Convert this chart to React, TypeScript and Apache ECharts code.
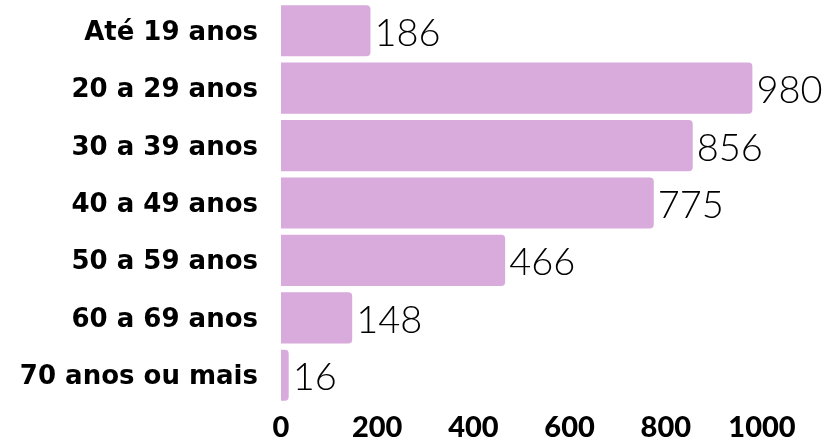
import React, { useEffect, useRef } from "react";
import * as echarts from "echarts";

const categories = [
  "Até 19 anos",
  "20 a 29 anos",
  "30 a 39 anos",
  "40 a 49 anos",
  "50 a 59 anos",
  "60 a 69 anos",
  "70 anos ou mais",
];
const values = [186, 980, 856, 775, 466, 148, 16];

export default function App() {
  const ref = useRef<HTMLDivElement>(null);
  useEffect(() => {
    if (!ref.current) return;
    const chart = echarts.init(ref.current, null, { renderer: "svg" });
    chart.setOption({
      animation: false,
      grid: { left: 281, right: 71, top: 2, bottom: 39, containLabel: false },
      xAxis: {
        type: "value",
        min: 0,
        max: 1000,
        interval: 200,
        splitLine: { show: false },
        axisLine: { show: false },
        axisTick: { show: false },
        axisLabel: {
          margin: 6,
          formatter: (v: number) => String(v),
          fontFamily: "Lato",
          fontWeight: 900,
          fontSize: 29,
          lineHeight: 30,
          color: "#000",
        },
      },
      yAxis: {
        type: "category",
        inverse: true,
        data: categories,
        axisLine: { show: false },
        axisTick: { show: false },
        axisLabel: {
          margin: 23,
          fontFamily: "DejaVu Sans",
          fontWeight: "bold",
          fontSize: 26,
          color: "#000",
        },
      },
      series: [
        {
          type: "bar",
          data: values,
          barCategoryGap: "11%",
          itemStyle: { color: "#D8ABDC", borderRadius: [0, 4, 4, 0] },
          label: {
            show: true,
            position: "right",
            distance: 4,
            fontFamily: "Lato",
            fontWeight: 300,
            fontSize: 38,
            color: "#000",
          },
        },
      ],
    });
    return () => chart.dispose();
  }, []);
  return (
    <div
      ref={ref}
      style={{ position: "fixed", left: 0, top: 0, width: 833, height: 443 }}
    />
  );
}
